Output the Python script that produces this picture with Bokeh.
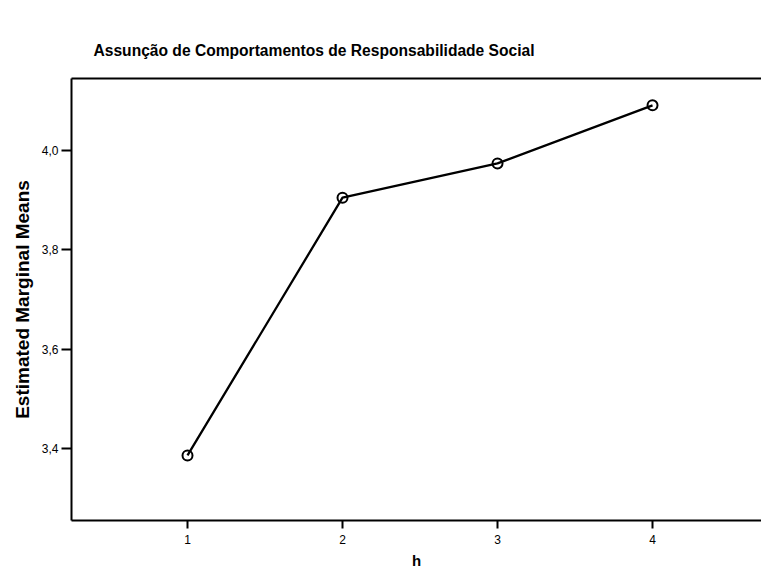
from bokeh.plotting import figure
from bokeh.models import FixedTicker, LinearAxis, Range1d
from bokeh.embed import file_html
from bokeh.resources import INLINE

# Data
h = [1, 2, 3, 4]
means = [3.386, 3.905, 3.974, 4.091]
x_ticks = [1, 2, 3, 4]
y_ticks = [3.4, 3.6, 3.8, 4.0]
y_tick_labels = ["3,4", "3,6", "3,8", "4,0"]

title_text = "Assunção de Comportamentos de Responsabilidade Social"
y_title = "Estimated Marginal Means"
x_title = "h"

FONT = "Liberation Sans"

p = figure(width=761, height=572, output_backend="svg", toolbar_location=None,
           x_range=Range1d(0.2516, 4.703), y_range=Range1d(3.255, 4.145),
           min_border_left=71, min_border_right=0, min_border_top=78,
           min_border_bottom=52, title=title_text)

p.background_fill_color = "white"
p.border_fill_color = "white"
p.outline_line_color = None
p.grid.visible = False

p.title.text_font = FONT
p.title.text_font_size = "15.6px"
p.title.text_font_style = "bold"
p.title.text_color = "black"
p.title.align = "left"
p.title.offset = 22
p.title.standoff = 39

# Left axis
ya = p.yaxis[0]
ya.ticker = FixedTicker(ticks=y_ticks)
ya.major_label_overrides = {t: l for t, l in zip(y_ticks, y_tick_labels)}
ya.minor_tick_line_color = None
ya.major_tick_in = 0
ya.major_tick_out = 10
ya.major_tick_line_width = 2
ya.major_tick_line_color = "black"
ya.axis_line_width = 2
ya.axis_line_color = "black"
ya.major_label_text_font = FONT
ya.major_label_text_font_size = "12px"
ya.major_label_text_color = "black"
ya.major_label_standoff = 3
ya.axis_label = y_title
ya.axis_label_text_font = FONT
ya.axis_label_text_font_size = "19px"
ya.axis_label_text_font_style = "bold"
ya.axis_label_text_color = "black"
ya.axis_label_standoff = 6

# Bottom axis
xa = p.xaxis[0]
xa.ticker = FixedTicker(ticks=x_ticks)
xa.minor_tick_line_color = None
xa.major_tick_in = 0
xa.major_tick_out = 8
xa.major_tick_line_width = 2
xa.major_tick_line_color = "black"
xa.axis_line_width = 2
xa.axis_line_color = "black"
xa.major_label_text_font = FONT
xa.major_label_text_font_size = "12px"
xa.major_label_text_color = "black"
xa.major_label_standoff = 6
xa.axis_label = x_title
xa.axis_label_text_font = FONT
xa.axis_label_text_font_size = "15px"
xa.axis_label_text_font_style = "bold"
xa.axis_label_text_color = "black"
xa.axis_label_standoff = 5

# Top border line as an unlabeled axis
top = LinearAxis(ticker=FixedTicker(ticks=[]), axis_line_width=2, axis_line_color="black",
                 major_label_text_font_size="0px", major_tick_line_color=None,
                 minor_tick_line_color=None)
p.add_layout(top, "above")

p.line(h, means, line_color="black", line_width=2.3)
p.scatter(h, means, marker="circle", size=10, line_color="black", line_width=2,
          fill_color=None)

open("out.html", "w").write(file_html(p, INLINE))
